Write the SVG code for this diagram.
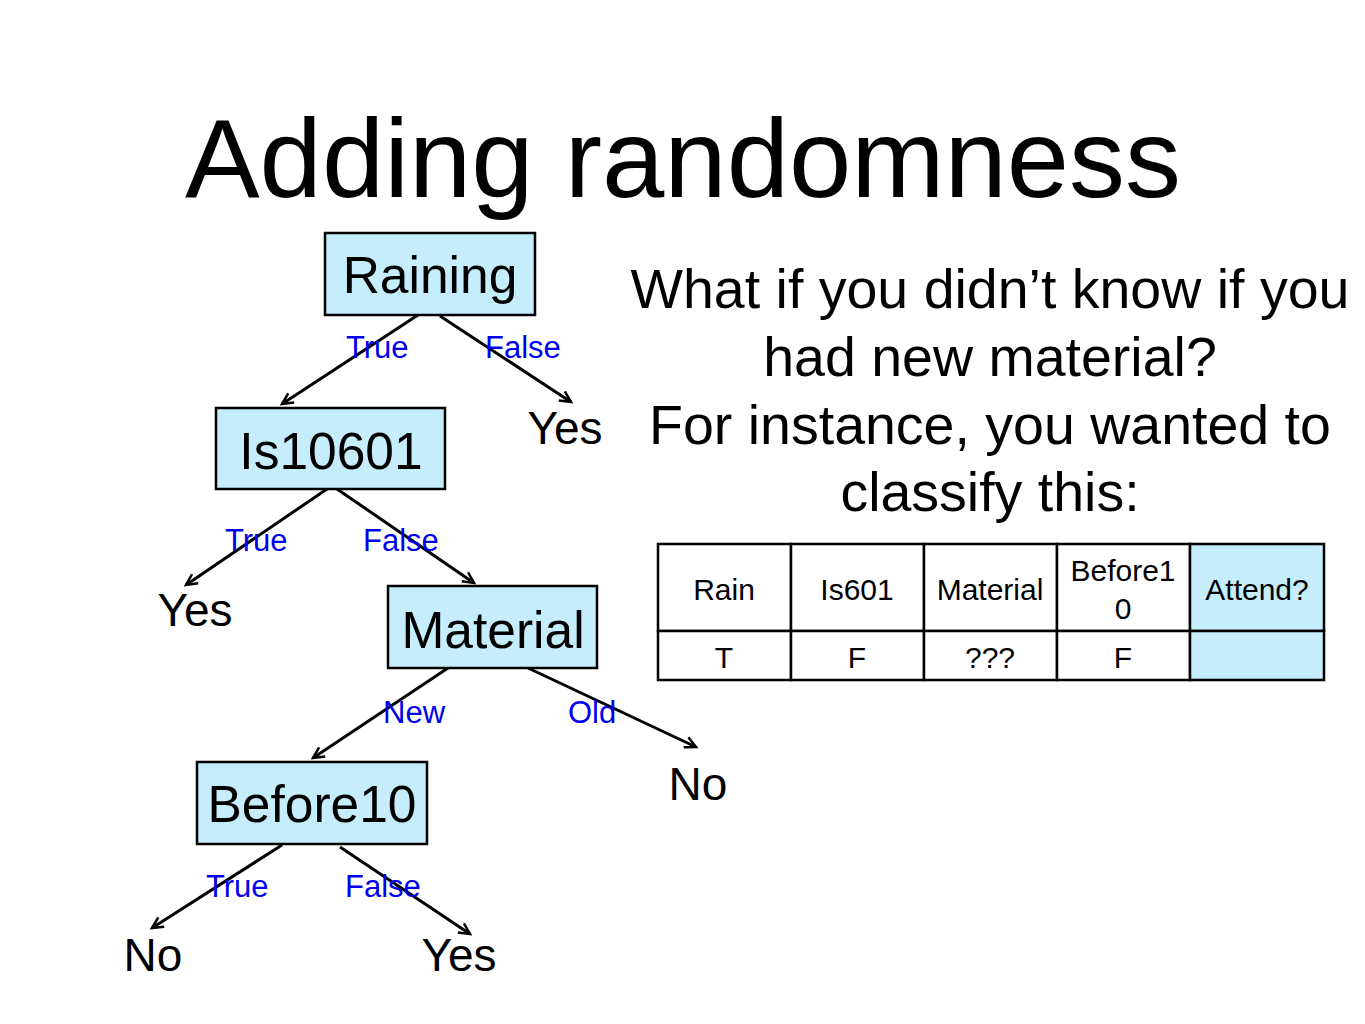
<svg xmlns="http://www.w3.org/2000/svg" width="1365" height="1024" viewBox="0 0 1365 1024">
<style>
text{font-family:"Liberation Sans",Arial,sans-serif;}
.box{fill:#C5EDFB;stroke:#000;stroke-width:2.5;}
.nt{font-size:51.5px;text-anchor:middle;fill:#000;}
.leaf{font-size:46px;text-anchor:middle;fill:#000;}
.el{font-size:31px;fill:#0000EE;}
.edge{stroke:#000;stroke-width:3;fill:none;marker-end:url(#arr);}
.q{font-size:55.5px;text-anchor:middle;fill:#000;}
.tc{font-size:30px;text-anchor:middle;fill:#000;}
.cell{fill:#fff;stroke:#000;stroke-width:2.5;}
.cellb{fill:#C5EDFB;stroke:#000;stroke-width:2.5;}
</style>
<defs>
<marker id="arr" markerWidth="16" markerHeight="16" refX="12" refY="7" orient="auto" markerUnits="userSpaceOnUse">
<path d="M1,1.5 L12,7 L1,12.5" fill="none" stroke="#000" stroke-width="2.5"/>
</marker>
</defs>
<rect width="1365" height="1024" fill="#fff"/>
<text x="683" y="197" style="font-size:112px;text-anchor:middle;">Adding randomness</text>

<g id="connectors">
<line class="edge" x1="418" y1="315" x2="282" y2="404"/>
<line class="edge" x1="440" y1="316" x2="571" y2="402"/>
<line class="edge" x1="327" y1="489" x2="186" y2="585"/>
<line class="edge" x1="337" y1="489" x2="474" y2="583"/>
<line class="edge" x1="451" y1="666" x2="313" y2="758"/>
<line class="edge" x1="528" y1="668" x2="696" y2="747"/>
<line class="edge" x1="282" y1="845" x2="152" y2="928"/>
<line class="edge" x1="340" y1="847" x2="470" y2="934"/>
<text class="el" x="346" y="358">True</text>
<text class="el" x="485" y="358">False</text>
<text class="el" x="225" y="551">True</text>
<text class="el" x="363" y="551">False</text>
<text class="el" x="383" y="723">New</text>
<text class="el" x="568" y="723">Old</text>
<text class="el" x="206" y="897">True</text>
<text class="el" x="345" y="897">False</text>
</g>

<g id="raining"><rect class="box" x="325" y="233" width="210" height="82"/><text class="nt" x="430" y="293">Raining</text></g>
<g id="is10601"><rect class="box" x="216" y="408" width="229" height="81"/><text class="nt" x="331" y="469">Is10601</text></g>
<g id="material"><rect class="box" x="388" y="586" width="209" height="82"/><text class="nt" x="493" y="648">Material</text></g>
<g id="before10"><rect class="box" x="197" y="762" width="230" height="82"/><text class="nt" x="312" y="822">Before10</text></g>

<g id="yes1"><text class="leaf" x="565" y="444">Yes</text></g>
<g id="yes2"><text class="leaf" x="195" y="626">Yes</text></g>
<g id="no1"><text class="leaf" x="698" y="800">No</text></g>
<g id="no2"><text class="leaf" x="153" y="971">No</text></g>
<g id="yes3"><text class="leaf" x="459" y="971">Yes</text></g>

<g id="question">
<text class="q" x="990" y="308">What if you didn’t know if you</text>
<text class="q" x="990" y="376">had new material?</text>
<text class="q" x="990" y="444">For instance, you wanted to</text>
<text class="q" x="990" y="511">classify this:</text>
</g>

<g id="table">
<rect class="cell" x="658" y="544" width="133" height="87"/>
<rect class="cell" x="791" y="544" width="133" height="87"/>
<rect class="cell" x="924" y="544" width="133" height="87"/>
<rect class="cell" x="1057" y="544" width="133" height="87"/>
<rect class="cellb" x="1190" y="544" width="134" height="87"/>
<rect class="cell" x="658" y="631" width="133" height="49"/>
<rect class="cell" x="791" y="631" width="133" height="49"/>
<rect class="cell" x="924" y="631" width="133" height="49"/>
<rect class="cell" x="1057" y="631" width="133" height="49"/>
<rect class="cellb" x="1190" y="631" width="134" height="49"/>
<text class="tc" x="724" y="600">Rain</text>
<text class="tc" x="857" y="600">Is601</text>
<text class="tc" x="990" y="600">Material</text>
<text class="tc" x="1123" y="581">Before1</text>
<text class="tc" x="1123" y="619">0</text>
<text class="tc" x="1257" y="600">Attend?</text>
<text class="tc" x="724" y="668">T</text>
<text class="tc" x="857" y="668">F</text>
<text class="tc" x="990" y="668">???</text>
<text class="tc" x="1123" y="668">F</text>
</g>
</svg>
